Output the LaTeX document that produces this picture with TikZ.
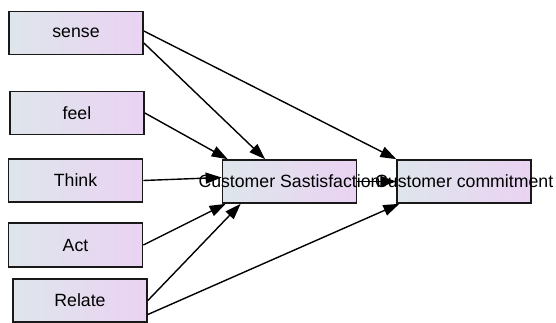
\documentclass[tikz,border=0pt]{standalone}
\usepackage{fontspec}
\setmainfont{Liberation Sans}
\usetikzlibrary{positioning, arrows.meta}
\definecolor{boxleft}{RGB}{222,230,235}
\definecolor{boxright}{RGB}{234,210,243}

\begin{document}
\begin{tikzpicture}[construct/.style={rectangle, 
      draw=black!90, 
      line width=0.85pt, 
      left color=boxleft, 
      right color=boxright, 
      minimum width=67pt, 
      minimum height=21.5pt, 
      inner sep=0pt, 
      font=\fontsize{8.85}{10}\selectfont}, 
    link/.style={-{Triangle[length=8pt, width=5.5pt]}, 
      line width=0.7pt}]

  \useasboundingbox (0,0) rectangle (278pt,161pt);

  \node [construct] (sense) at (38pt,144.5pt) {sense};

  \node [construct] (feel) at (38.5pt,104.5pt) {feel};

  \node [construct] (think) at (37.75pt,70.75pt) {Think};

  \node [construct, 
    minimum height=22pt] (act) at (37.75pt,38.5pt) {Act};

  \node [construct] (relate) at (40pt,10.75pt) {Relate};

  \node [construct] (satisfaction) at (144.75pt,70.25pt) 
    {\makebox[0pt]{Customer Sastisfaction}};

  \node [construct, 
    right=19.5pt of satisfaction] (commitment) 
    {\makebox[0pt]{Customer commitment}};

% PATHS

  \draw[link] ([yshift=1pt]sense.east) -- (commitment.north west);
  \draw[link] ([yshift=-5pt]sense.east) 
    -- ([xshift=-12.25pt]satisfaction.north);
  \draw[link] (feel.east) -- ([xshift=3pt]satisfaction.north west);
  \draw[link] (think.east) -- ([yshift=2pt]satisfaction.west);
  \draw[link] (act.east) -- ([xshift=2pt]satisfaction.south west);
  \draw[link] (relate.east) -- ([xshift=9.5pt]satisfaction.south west);
  \draw[link] ([yshift=-7pt]relate.east) 
    -- ([xshift=1.5pt]commitment.south west);
  \draw[link] (satisfaction.east) -- (commitment.west);

\end{tikzpicture}
\end{document}
